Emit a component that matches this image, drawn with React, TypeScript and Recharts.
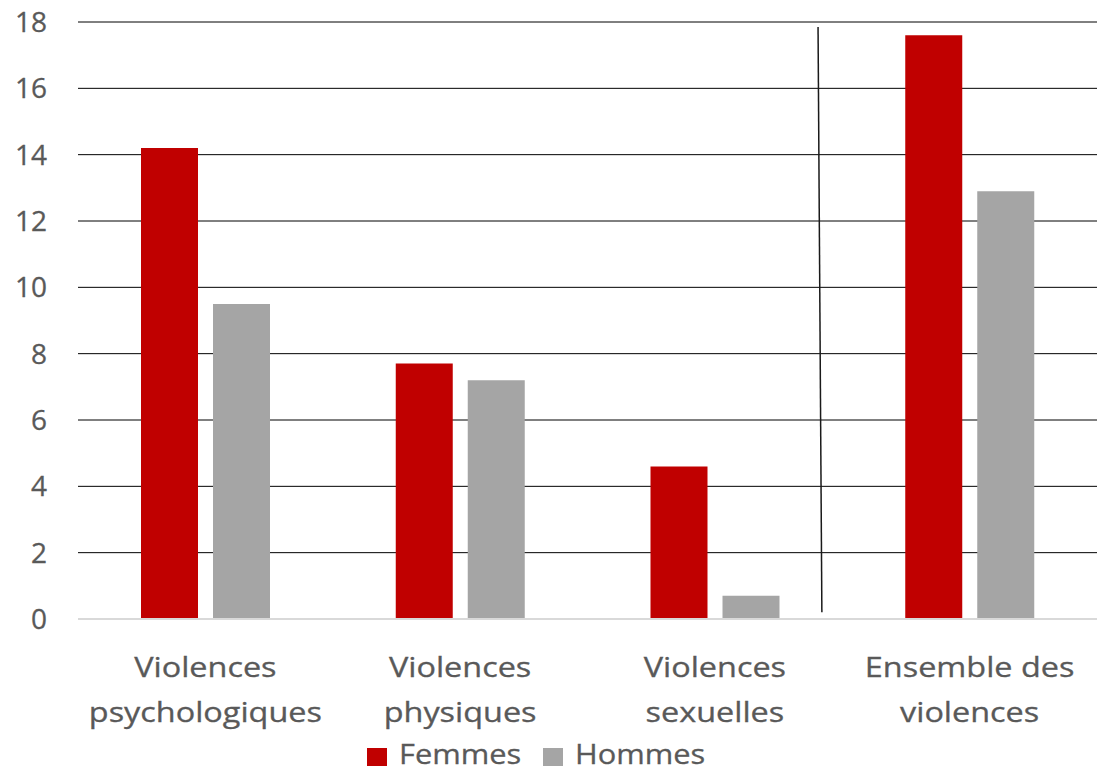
import { Bar, BarChart, CartesianGrid, Scatter, ScatterChart, XAxis, YAxis } from "recharts";

const categories = ["Violences psychologiques", "Violences physiques", "Violences sexuelles", "Ensemble des violences"];
const femmes = [14.2, 7.7, 4.6, 17.6];
const hommes = [9.5, 7.2, 0.7, 12.9];
const yTicks = [0, 2, 4, 6, 8, 10, 12, 14, 16, 18];
const seriesNames = ["Femmes", "Hommes"];
const seriesColors = ["#C00000", "#A5A5A5"];
// hand-drawn separator before the total, in category-band units (0..4) and values
const separator = [
  { x: 2.905, y: 17.85 },
  { x: 2.92, y: 0.2 },
];

const data = categories.map((name, i) => ({ name, femmes: femmes[i], hommes: hommes[i] }));

const INK = "#595959";
const FONT = "'Open Sans', sans-serif";
const W = 1097;
const H = 772;
const MARGIN = { top: 22, right: 0, bottom: 0, left: 0 };

function XTick({ x, y, payload }: { x: number; y: number; payload: { value: string } }) {
  const label = String(payload.value);
  const cut = label.lastIndexOf(" ");
  const lines = [label.slice(0, cut), label.slice(cut + 1)];
  return (
    <g transform={`translate(${x},${y})`}>
      <text textAnchor="middle" fill={INK} stroke={INK} strokeWidth={0.3} fontFamily={FONT} fontSize={27} transform="scale(1.2,1)">
        <tspan x={0} y={58}>{lines[0]}</tspan>
        <tspan x={0} y={103}>{lines[1]}</tspan>
      </text>
    </g>
  );
}

function YTick({ x, y, payload }: { x: number; y: number; payload: { value: number } }) {
  return (
    <text x={x} y={y} dy={10} textAnchor="end" fill={INK} stroke={INK} strokeWidth={0.3} fontFamily={FONT} fontSize={28}>
      {payload.value}
    </text>
  );
}

// legend item slots (left edge of swatch, left edge of text)
const legendSlots = [
  { swatch: 367, text: 399 },
  { swatch: 543, text: 575 },
];

function LegendRow() {
  return (
    <div style={{ position: "absolute", left: 0, top: 0, fontFamily: FONT, fontSize: 28, color: INK, WebkitTextStroke: `0.3px ${INK}` }}>
      {seriesNames.map((name, i) => (
        <div key={name}>
          <span style={{ position: "absolute", left: legendSlots[i].swatch, top: 748, width: 20, height: 18, background: seriesColors[i] }} />
          <span style={{ position: "absolute", left: legendSlots[i].text, top: 734, lineHeight: "38px", whiteSpace: "nowrap", transform: "scaleX(1.1)", transformOrigin: "left center" }}>{name}</span>
        </div>
      ))}
    </div>
  );
}

export default function App() {
  return (
    <div style={{ position: "absolute", left: 0, top: 0, width: W, height: H, background: "#fff" }}>
      <BarChart width={W} height={H} data={data} margin={MARGIN} barSize={57} barGap={15}>
        <CartesianGrid vertical={false} stroke="#000" horizontalValues={yTicks.filter((t) => t > 0)} />
        <XAxis dataKey="name" height={153} tick={XTick} tickLine={false} tickSize={0} tickMargin={0} axisLine={{ stroke: "#D9D9D9", strokeWidth: 2 }} interval={0} />
        <YAxis width={78} domain={[0, 18]} ticks={yTicks} tick={YTick} tickLine={false} tickSize={0} tickMargin={31} axisLine={false} interval={0} />
        <Bar dataKey="femmes" name={seriesNames[0]} fill={seriesColors[0]} isAnimationActive={false} />
        <Bar dataKey="hommes" name={seriesNames[1]} fill={seriesColors[1]} isAnimationActive={false} />
      </BarChart>
      {/* overlay with plain numeric axes, same plot box, for the separator line */}
      <div style={{ position: "absolute", left: 0, top: 0, pointerEvents: "none" }}>
        <ScatterChart width={W} height={H} margin={{ top: MARGIN.top, right: 0, bottom: 153, left: 78 }}>
          <XAxis type="number" dataKey="x" domain={[0, categories.length]} allowDataOverflow hide />
          <YAxis type="number" dataKey="y" domain={[0, 18]} allowDataOverflow hide />
          <Scatter data={separator} line={{ stroke: "#1a1a1a", strokeWidth: 1.5 }} shape={() => <g />} isAnimationActive={false} />
        </ScatterChart>
      </div>
      <LegendRow />
    </div>
  );
}
